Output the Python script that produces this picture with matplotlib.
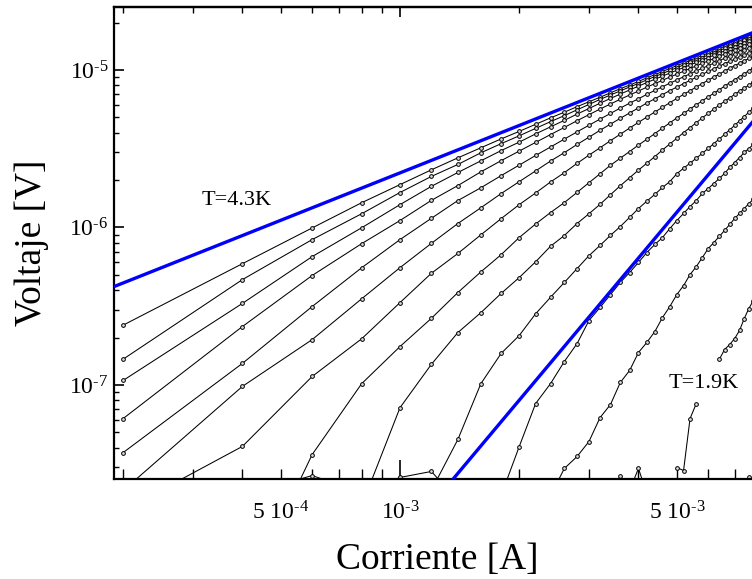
import numpy as np
import matplotlib
matplotlib.use("Agg")
import matplotlib.pyplot as plt
from matplotlib.ticker import FixedLocator, NullFormatter

plt.rcParams['font.family'] = ['Liberation Serif', 'DejaVu Serif']
plt.rcParams['mathtext.fontset'] = 'custom'
plt.rcParams['mathtext.rm'] = 'Liberation Serif'
plt.rcParams['mathtext.it'] = 'Liberation Serif:italic'
plt.rcParams['mathtext.bf'] = 'Liberation Serif:bold'

# current steps of the measurement (mA)
I_mA = [0.2, 0.4, 0.6, 0.8, 1.0, 1.2, 1.4, 1.6, 1.8, 2.0, 2.2, 2.4, 2.6, 2.8, 3.0,
        3.2, 3.4, 3.6, 3.8, 4.0, 4.2, 4.4, 4.6, 4.8, 5.0, 5.2, 5.4, 5.6, 5.8, 6.0,
        6.2, 6.4, 6.6, 6.8, 7.0, 7.2, 7.4, 7.6, 7.8]

# log10(V) of each isotherm (hot -> cold)
logv_c1 = [-6.620, -6.230, -6.003, -5.843, -5.728, -5.634, -5.558, -5.494, -5.438, -5.390,
           -5.345, -5.304, -5.268, -5.233, -5.202, -5.173, -5.145, -5.119, -5.096, -5.073,
           -5.050, -5.030, -5.010, -4.990, -4.973, -4.956, -4.940, -4.923, -4.908, -4.893,
           -4.879, -4.865, -4.850, -4.837, -4.825, -4.812, -4.801, -4.788, -4.776]
logv_c2 = [-6.836, -6.331, -6.077, -5.913, -5.778, -5.676, -5.600, -5.526, -5.468, -5.418,
           -5.371, -5.328, -5.290, -5.253, -5.219, -5.187, -5.159, -5.133, -5.108, -5.086,
           -5.063, -5.042, -5.023, -5.003, -4.986, -4.968, -4.952, -4.936, -4.921, -4.905,
           -4.891, -4.877, -4.863, -4.850, -4.837, -4.824, -4.813, -4.801, -4.789]
logv_c3 = [-6.971, -6.482, -6.185, -6.002, -5.855, -5.739, -5.651, -5.577, -5.512, -5.458,
           -5.406, -5.361, -5.320, -5.280, -5.245, -5.211, -5.181, -5.153, -5.127, -5.103,
           -5.080, -5.059, -5.039, -5.020, -5.002, -4.985, -4.968, -4.952, -4.937, -4.921,
           -4.907, -4.893, -4.879, -4.866, -4.853, -4.840, -4.829, -4.817, -4.805]
logv_c4 = [-7.213, -6.629, -6.305, -6.103, -5.956, -5.828, -5.734, -5.647, -5.576, -5.515,
           -5.460, -5.410, -5.365, -5.322, -5.284, -5.248, -5.216, -5.186, -5.159, -5.134,
           -5.109, -5.087, -5.066, -5.045, -5.027, -5.008, -4.991, -4.974, -4.958, -4.943,
           -4.928, -4.913, -4.899, -4.885, -4.872, -4.859, -4.848, -4.836, -4.824]
logv_c5 = [-7.429, -6.863, -6.502, -6.256, -6.077, -5.942, -5.829, -5.748, -5.671, -5.604,
           -5.543, -5.489, -5.439, -5.393, -5.351, -5.312, -5.276, -5.242, -5.211, -5.183,
           -5.155, -5.130, -5.107, -5.084, -5.064, -5.043, -5.025, -5.006, -4.989, -4.973,
           -4.957, -4.941, -4.926, -4.912, -4.899, -4.885, -4.873, -4.861, -4.848]
logv_c6 = [-7.670, -7.009, -6.712, -6.453, -6.255, -6.101, -5.975, -5.875, -5.785, -5.709,
           -5.641, -5.578, -5.525, -5.473, -5.427, -5.383, -5.344, -5.307, -5.273, -5.241,
           -5.210, -5.183, -5.157, -5.131, -5.109, -5.087, -5.066, -5.046, -5.028, -5.009,
           -4.993, -4.976, -4.960, -4.945, -4.932, -4.917, -4.905, -4.892, -4.878]
logv_c7 = [-7.797, -7.390, -6.946, -6.707, -6.477, -6.291, -6.165, -6.047, -5.944, -5.855,
           -5.781, -5.711, -5.652, -5.593, -5.541, -5.494, -5.449, -5.408, -5.369, -5.333,
           -5.299, -5.267, -5.237, -5.208, -5.181, -5.155, -5.132, -5.108, -5.086, -5.065,
           -5.045, -5.026, -5.007, -4.989, -4.973, -4.957, -4.942, -4.927, -4.913]
logv_c8 = [-8.369, -7.442, -6.992, -6.756, -6.577, -6.413, -6.282, -6.173, -6.064,
           -5.978, -5.905, -5.842, -5.777, -5.716, -5.659, -5.605, -5.560, -5.518, -5.477,
           -5.440, -5.404, -5.369, -5.336, -5.305, -5.276, -5.248, -5.221, -5.196, -5.171,
           -5.148, -5.125, -5.103, -5.081, -5.062, -5.042, -5.024, -5.005, -4.987]
logv_c9 = [-7.767, -7.144, -6.869, -6.667, -6.541, -6.419, -6.318,
           -6.218, -6.119, -6.051, -5.975, -5.913, -5.853, -5.792, -5.735, -5.684, -5.636,
           -5.592, -5.550, -5.508, -5.470, -5.434, -5.398, -5.366, -5.335, -5.304, -5.276,
           -5.249, -5.223, -5.199, -5.177, -5.155, -5.134, -5.115, -5.097, -5.078]
logv_c10 = [-7.669, -7.346, -6.992, -6.800, -6.686,
            -6.548, -6.443, -6.349, -6.261, -6.179, -6.114, -6.050, -5.994, -5.936, -5.880,
            -5.833, -5.790, -5.746, -5.709, -5.659, -5.624, -5.592, -5.560, -5.529, -5.498,
            -5.468, -5.438, -5.409, -5.380, -5.352, -5.323, -5.296, -5.268, -5.244]
logv_c11 = [-7.702, -7.391,
            -7.118, -6.991, -6.851, -6.737, -6.591, -6.508, -6.426, -6.349, -6.286, -6.222,
            -6.159, -6.108, -6.064, -6.007, -5.956, -5.911, -5.867, -5.829, -5.784, -5.753,
            -5.721, -5.689, -5.657, -5.619, -5.588, -5.556, -5.524, -5.499, -5.473]
logv_c12 = [-7.702, -7.530, -7.454, -7.359, -7.207, -7.124, -6.984, -6.908, -6.794,
            -6.730, -6.661, -6.572, -6.502, -6.426, -6.369, -6.299, -6.248, -6.191, -6.134,
            -6.096, -6.057, -6.019, -5.981, -5.943, -5.911, -5.880, -5.848, -5.822]
logv_c13 = [-6.838, -6.775, -6.743, -6.705, -6.654, -6.578, -6.515, -6.464]
logv_c14 = [-7.524, -7.543, -7.213, -7.118]
logv_floor_a = [-7.797, -7.702, -7.575, -7.682, -7.587, -7.549, -7.733]
logv_floor_b = [-7.765, -7.702, -7.581, -7.670, -7.530, -7.689, -7.765, -7.733, -7.720,
                -7.765, -7.733, -7.760, -7.740, -7.765, -7.750, -7.733, -7.760, -7.745,
                -7.765, -7.740, -7.720, -7.670, -7.587, -7.670]

# first current step (1-based) of each series
curves = [(1, logv_c1), (1, logv_c2), (1, logv_c3), (1, logv_c4), (1, logv_c5),
          (1, logv_c6), (1, logv_c7), (2, logv_c8), (4, logv_c9), (6, logv_c10),
          (9, logv_c11), (12, logv_c12), (32, logv_c13), (25, logv_c14),
          (1, logv_floor_a), (16, logv_floor_b)]

# guide lines: ohmic (T=4.3K) and V ~ I^3
ohm_I = [1.8e-4, 8.2e-3]
ohm_V = [4.0e-7, 1.82e-5]
cube_I = [1.3e-3, 8.2e-3]
cube_V = [2.2e-8, 5.5e-6]

fig = plt.figure(figsize=(7.52, 5.79), dpi=100)
ax = fig.add_axes([114/752, 100/579, 646/752, 472/579])
ax.set_xscale('log')
ax.set_yscale('log')

for start, lv in curves:
    x = np.array(I_mA[start-1:start-1+len(lv)]) * 1e-3
    y = 10 ** np.array(lv)
    ax.plot(x, y, '-', color='black', lw=0.75, marker='o', ms=2.7,
            mfc='#d8d8d8', mec='black', mew=0.7, zorder=2)

ax.plot(ohm_I, ohm_V, color='#0000ff', lw=2.4, zorder=3)
ax.plot(cube_I, cube_V, color='#0000ff', lw=2.4, zorder=3)

ax.set_xlim(1.896e-4, 8.11e-3)
ax.set_ylim(2.53e-8, 2.51e-5)

ax.text(3.87e-4, 1.48e-6, 'T=4.3K', fontsize=16, ha='center', va='center')
ax.text(5.86e-3, 1.02e-7, 'T=1.9K', fontsize=16, ha='center', va='center')

# x ticks
ax.set_xticks([1e-3], labels=[r'10$^{\text{-}3}$'])
xminor = [2e-4, 3e-4, 4e-4, 5e-4, 6e-4, 7e-4, 8e-4, 9e-4,
          2e-3, 3e-3, 4e-3, 5e-3, 6e-3, 7e-3, 8e-3]
xminor_lab = ['', '', '', r'5 10$^{\text{-}4}$', '', '', '', '',
              '', '', '', r'5 10$^{\text{-}3}$', '', '', '']
ax.set_xticks(xminor, labels=xminor_lab, minor=True)
ax.tick_params(axis='x', which='major', direction='in', length=13.5, width=1.2,
               labelsize=17, pad=16)
ax.tick_params(axis='x', which='minor', direction='in', length=7, width=1.0,
               labelsize=17, pad=16)

# y ticks
ax.set_yticks([1e-7, 1e-6, 1e-5],
              labels=[r'10$^{\text{-}7}$', r'10$^{\text{-}6}$', r'10$^{\text{-}5}$'])
yminor = [m * d for d in (1e-8, 1e-7, 1e-6, 1e-5) for m in range(2, 10)]
yminor = [v for v in yminor if 2.53e-8 <= v <= 2.51e-5]
ax.set_yticks(yminor, minor=True)
ax.yaxis.set_minor_formatter(NullFormatter())
ax.tick_params(axis='y', which='major', direction='in', length=7.2, width=1.2,
               labelsize=17, pad=4)
ax.tick_params(axis='y', which='minor', direction='in', length=3.6, width=1.0)

# top ticks, shorter than the bottom ones
top = ax.secondary_xaxis('top')
top.xaxis.set_major_locator(FixedLocator([1e-3]))
top.xaxis.set_minor_locator(FixedLocator(xminor))
top.xaxis.set_major_formatter(NullFormatter())
top.xaxis.set_minor_formatter(NullFormatter())
top.tick_params(axis='x', which='major', direction='in', length=7.2, width=1.2)
top.tick_params(axis='x', which='minor', direction='in', length=4.3, width=1.0)
top.spines['top'].set_linewidth(1.6)

for s in ['left', 'bottom', 'top']:
    ax.spines[s].set_linewidth(1.6)
ax.spines['right'].set_visible(False)

ax.set_xlabel('Corriente [A]', fontsize=27, va='center')
ax.xaxis.set_label_coords(0.5, -0.172)
ax.set_ylabel('Voltaje [V]', fontsize=27, va='center')
ax.yaxis.set_label_coords(-0.128, 0.5)

fig.savefig('out.png', dpi=100)
